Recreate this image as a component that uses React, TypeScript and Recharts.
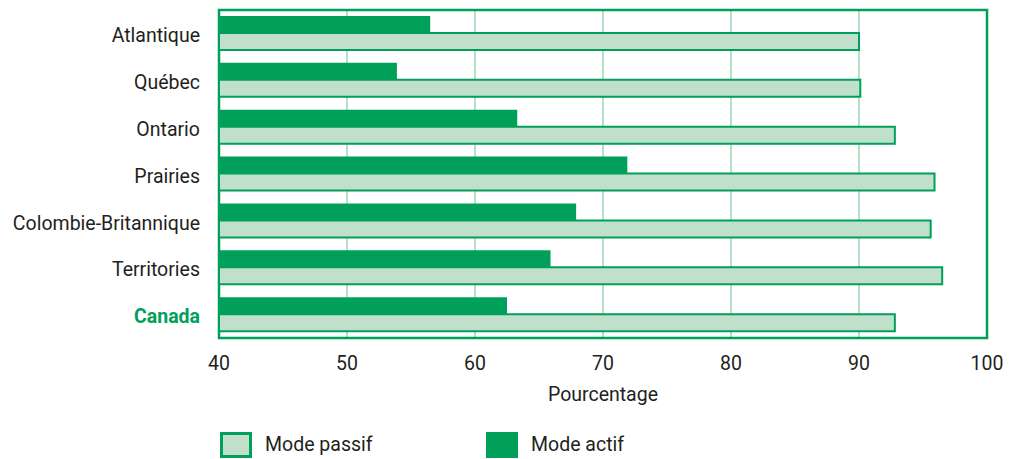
import { BarChart, Bar, XAxis, YAxis, CartesianGrid, Legend, ReferenceArea } from "recharts";

const regions = ["Atlantique", "Québec", "Ontario", "Prairies", "Colombie-Britannique", "Territories", "Canada"];
const activeMode = [56.5, 53.9, 63.3, 71.9, 67.9, 65.9, 62.5];
const passiveMode = [90.0, 90.1, 92.8, 95.9, 95.6, 96.5, 92.8];
const xTicks = [40, 50, 60, 70, 80, 90, 100];

const DARK = "#00a05a";
const LIGHT = "#c0e0cc";
const GRID = "#9fd6b7";
const TEXT = "#231f20";
const FONT = "Roboto, 'Liberation Sans', Arial, sans-serif";
const FS = 19.5;

const data = regions.map((name, i) => ({
  name,
  actif: activeMode[i],
  passif: passiveMode[i],
}));

function RegionTick(props: any) {
  const { x, y, payload } = props;
  const isCanada = payload.value === "Canada";
  return (
    <text
      x={x}
      y={y}
      dy="0.45em"
      textAnchor="end"
      fontFamily={FONT}
      fontSize={FS}
      fontWeight={isCanada ? "bold" : "normal"}
      fill={isCanada ? DARK : TEXT}
    >
      {payload.value}
    </text>
  );
}

function LegendContent() {
  const items = [
    { label: "Mode passif", fill: LIGHT, border: `3px solid ${DARK}`, left: 0 },
    { label: "Mode actif", fill: DARK, border: "none", left: 266 },
  ];
  return (
    <div style={{ position: "relative", height: 28, fontFamily: FONT, fontSize: FS, color: TEXT }}>
      {items.map((it) => (
        <div key={it.label} style={{ position: "absolute", left: it.left, top: 0, display: "flex", alignItems: "center" }}>
          <div
            style={{
              width: 32,
              height: 26,
              boxSizing: "border-box",
              background: it.fill,
              border: it.border,
            }}
          />
          <span style={{ marginLeft: 13, lineHeight: "26px" }}>{it.label}</span>
        </div>
      ))}
    </div>
  );
}

export default function App() {
  return (
    <BarChart
      width={1000}
      height={451}
      data={data}
      layout="vertical"
      margin={{ top: 2, right: 21, left: 0, bottom: 51 }}
      barGap={0}
      barSize={17}
    >
      <CartesianGrid horizontal={false} stroke={GRID} strokeWidth={1.5} />
      <XAxis
        type="number"
        domain={[40, 100]}
        ticks={xTicks}
        allowDataOverflow
        axisLine={false}
        tickLine={false}
        tickMargin={12}
        height={70}
        tick={{ fontFamily: FONT, fontSize: FS, fill: TEXT }}
        label={{
          value: "Pourcentage",
          position: "insideBottom",
          offset: 7,
          fontFamily: FONT,
          fontSize: FS,
          fill: TEXT,
        }}
      />
      <YAxis
        type="category"
        dataKey="name"
        width={211}
        axisLine={false}
        tickLine={false}
        tickMargin={13}
        tick={<RegionTick />}
        interval={0}
      />
      <Legend
        layout="horizontal"
        verticalAlign="middle"
        align="center"
        wrapperStyle={{ top: 424, left: 212, width: 500 }}
        content={<LegendContent />}
      />
      <Bar dataKey="actif" name="Mode actif" fill={DARK} isAnimationActive={false} />
      <Bar dataKey="passif" name="Mode passif" fill={LIGHT} stroke={DARK} strokeWidth={2} isAnimationActive={false} />
      <ReferenceArea x1={40} x2={100} fill="none" stroke={DARK} strokeWidth={2.5} ifOverflow="visible" />
    </BarChart>
  );
}
